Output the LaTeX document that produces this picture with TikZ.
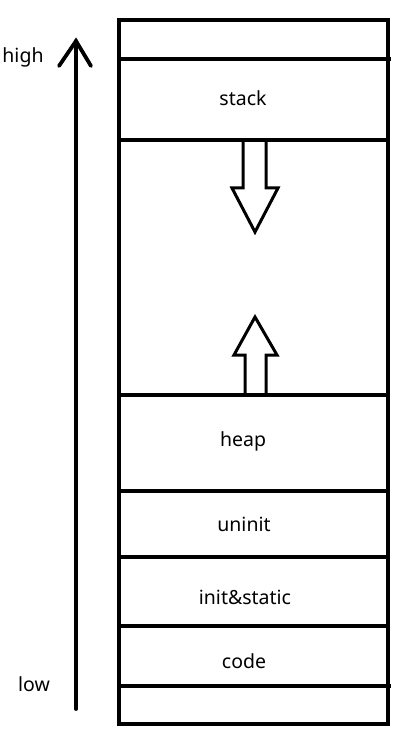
\documentclass[tikz,border=0pt]{standalone}
\usepackage{fontspec}
\setmainfont{Noto Sans}
\usetikzlibrary{arrows.meta}
\tikzset{
  wall/.style={line width=3.8pt},
  fat/.style={line width=3pt, line join=miter},
  lbl/.style={font=\fontsize{19.5}{23}\selectfont, inner sep=0pt, anchor=base},
}
\begin{document}
\begin{tikzpicture}[x=1pt,y=-1pt]
\useasboundingbox (0,0) rectangle (404,743);
% outer box
\draw[wall] (119,20) rectangle (388,724);
% dividers
\draw[wall] (119,59) -- (391,59);
\draw[wall] (119,140) -- (386,140);
\draw[wall] (119,395) -- (388,395);
\draw[wall] (119,491) -- (388,491);
\draw[wall] (119,557) -- (388,557);
\draw[wall] (119,626) -- (388,626);
\draw[wall] (119,686) -- (391,686);
% labels
\node[lbl] (stack) at (243,106) {stack};
\node[lbl] (heap) at (243,446) {heap};
\node[lbl] (uninit) at (244,531) {uninit};
\node[lbl] (init) at (245,604) {init\&static};
\node[lbl] (code) at (244,668) {code};
\node[lbl] (high) at (23,63) {high};
\node[lbl] (low) at (34,691) {low};
% address arrow
\coordinate (lo) at (76,709);
\coordinate (hi) at (76,41);
\draw[line width=3.8pt, line cap=round] (lo) -- (hi);
\draw[line width=3.8pt, line cap=round, line join=miter] (59,66) -- (hi) -- (91,66);
% stack growth arrow (down)
\draw[fat] (243,140) -- (243,188) -- (232,188) -- (255,232) -- (278,188) -- (266,188) -- (266,140);
% heap growth arrow (up)
\draw[fat] (245,395) -- (245,355) -- (234,355) -- (255,317) -- (277,355) -- (266,355) -- (266,395);
\end{tikzpicture}
\end{document}
